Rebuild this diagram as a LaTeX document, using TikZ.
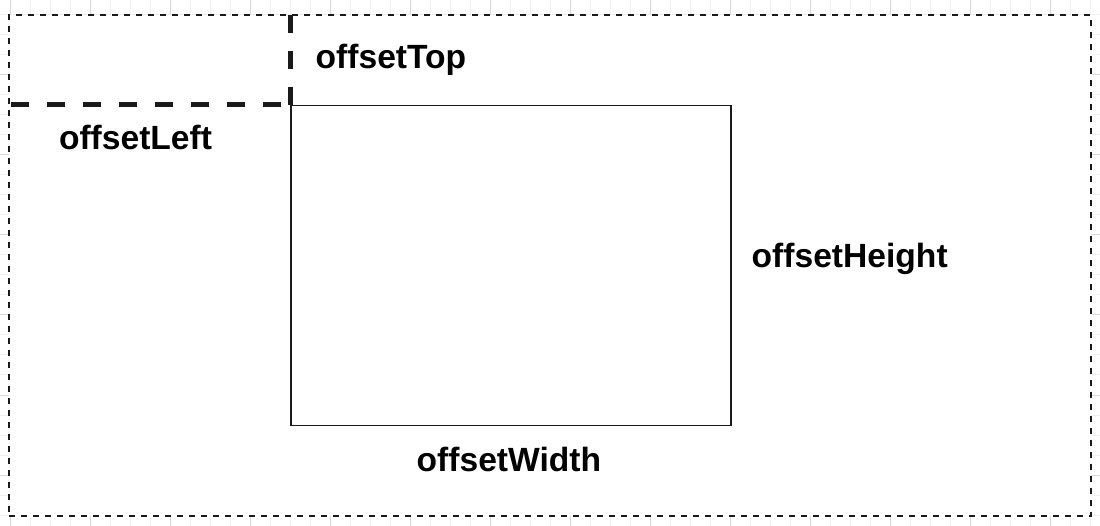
\documentclass[tikz,border=0pt]{standalone}
\usepackage{fontspec}
\setmainfont{Liberation Sans}
\definecolor{gridminor}{HTML}{F0F0F0}
\definecolor{gridmajor}{HTML}{D8D8D8}
\definecolor{ink}{HTML}{1A1A1A}
\tikzset{
  minorgrid/.style={draw=gridminor, line width=1pt},
  majorgrid/.style={draw=gridmajor, line width=1pt},
  frame/.style={draw=ink, fill=white, line width=2pt, dash pattern=on 6pt off 6pt, rectangle, inner sep=0pt},
  elembox/.style={draw=ink, line width=1.8pt, rectangle, inner sep=0pt},
  thickdash/.style={draw=ink, line width=5pt, dash pattern=on 18pt off 18pt},
  lbl/.style={font=\fontsize{33.6}{40}\selectfont\bfseries, inner sep=0pt, anchor=base west, text=black}
}
\begin{document}
\begin{tikzpicture}[x=1pt, y=-1pt]
\useasboundingbox (0,0) rectangle (1100,526);
% background grid
\foreach \gx in {10,30,...,1090} \draw[minorgrid] (\gx,0) -- (\gx,526);
\foreach \gy in {-5,15,...,525} \draw[minorgrid] (0,\gy) -- (1100,\gy);
\foreach \gx in {10,90,...,1090} \draw[majorgrid] (\gx,0) -- (\gx,526);
\foreach \gy in {-5,75,...,525} \draw[majorgrid] (0,\gy) -- (1100,\gy);
% outer dashed frame
\node[frame, minimum width=1082pt, minimum height=501pt] (outer) at (550,265.5) {};
% element box
\node[elembox, minimum width=440pt, minimum height=320pt] (box) at (511,265.5) {};
% offset lines
\coordinate (leftend) at (outer.west |- box.north west);
\coordinate (topend) at (box.north west |- outer.north);
\draw[thickdash, dash phase=26.7pt] (box.north west) -- (leftend);
\draw[thickdash] (box.north west) -- (topend);
% labels
\node[lbl] (ltop) at (315.5,68.5) {offsetTop};
\node[lbl] (lleft) at (58.8,150) {offsetLeft};
\node[lbl] (lheight) at (751.5,267.5) {offsetHeight};
\node[lbl] (lwidth) at (416.5,471) {offsetWidth};
\end{tikzpicture}
\end{document}
